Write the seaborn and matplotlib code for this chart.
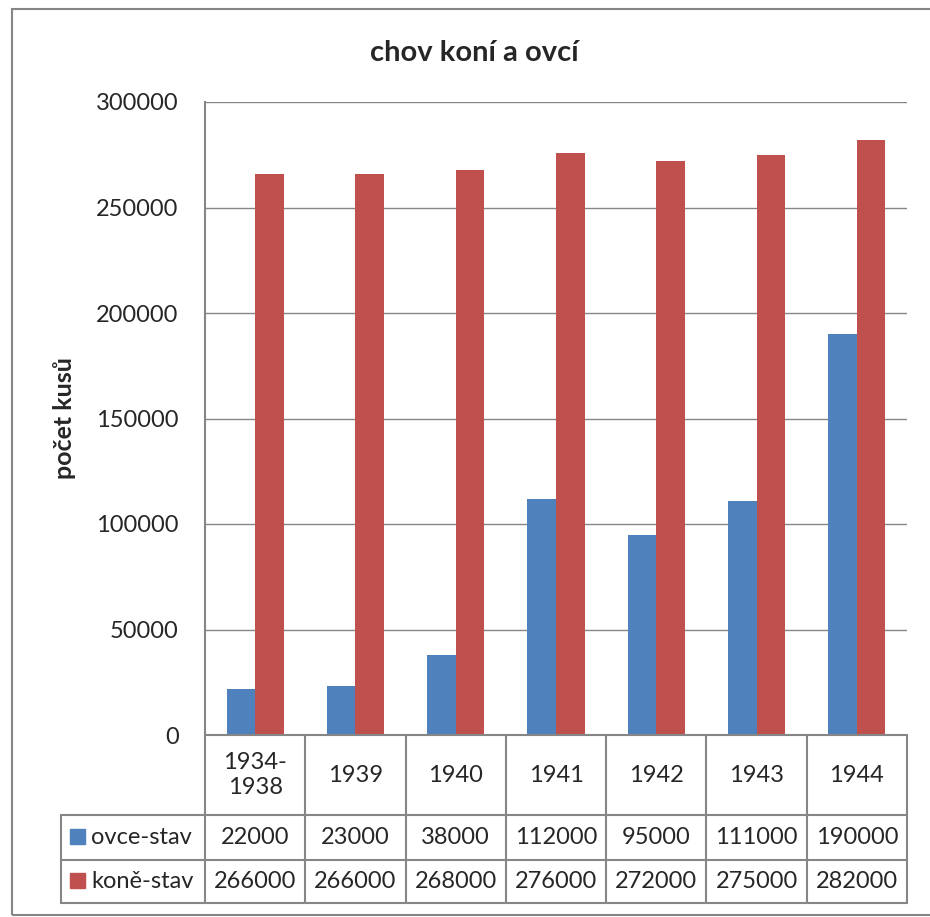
import pandas as pd
import matplotlib.pyplot as plt
import matplotlib.patches as mpatches
import matplotlib.transforms as mtransforms
import seaborn as sns

# data
years = ["1934-\n1938", "1939", "1940", "1941", "1942", "1943", "1944"]
ovce = [22000, 23000, 38000, 112000, 95000, 111000, 190000]
kone = [266000, 266000, 268000, 276000, 272000, 275000, 282000]
series = ["ovce-stav", "koně-stav"]
colors = ["#4F81BD", "#C0504D"]
title = "chov koní a ovcí"
ylabel = "počet kusů"
yticks = [0, 50000, 100000, 150000, 200000, 250000, 300000]

df = pd.DataFrame({
    "rok": years * 2,
    "stav": ovce + kone,
    "serie": [series[0]] * len(years) + [series[1]] * len(years),
})

sns.set_style("white")
plt.rcParams["font.family"] = ["Lato", "DejaVu Sans"]
GRID = "#868686"
FS = 17

W, H = 930, 917
fig = plt.figure(figsize=(W / 100, H / 100), dpi=100)

# plot area in pixels
L, R, T, B = 205, 907, 102, 735
ax = fig.add_axes([L / W, 1 - B / H, (R - L) / W, (B - T) / H])

sns.barplot(data=df, x="rok", y="stav", hue="serie", palette=colors,
            width=0.57, gap=0, saturation=1, linewidth=0, edgecolor="none",
            ax=ax, legend=False)

ax.set_ylim(0, 300000)
ax.set_xlim(-0.5, len(years) - 0.5)
ax.set_yticks(yticks)
ax.set_yticklabels([str(v) for v in yticks], fontsize=FS)
ax.tick_params(axis="y", length=0, pad=19)
ax.set_xticks([])
ax.set_xlabel("")
ax.set_ylabel("")
ax.yaxis.grid(True, color=GRID, lw=1)
ax.set_axisbelow(True)
for s in ["top", "right", "bottom"]:
    ax.spines[s].set_visible(False)
ax.spines["left"].set_color(GRID)
ax.spines["left"].set_linewidth(1.5)

# titles
fig.text(474 / W, 1 - 53 / H, title, ha="center", va="center",
         fontsize=21, fontweight="bold")
fig.text(65 / W, 1 - 418 / H, ylabel, ha="center", va="center",
         rotation=90, fontsize=18, fontweight="bold")

# data table under the plot (x in data units, y in axes units)
trans = mtransforms.blended_transform_factory(ax.transData, ax.transAxes)
ah = B - T
def ya(py):
    return (B - py) / ah

rows = [735, 815, 860, 903]
leg_left = ax.transData.inverted().transform(ax.transAxes.transform(((61 - L) / (R - L), 0)))[0]
n = len(years)
line_kw = dict(color=GRID, lw=1.5, clip_on=False, transform=trans)

# horizontal lines
ax.plot([-0.5, n - 0.5], [ya(rows[0])] * 2, **line_kw)
for py in rows[1:]:
    ax.plot([leg_left, n - 0.5], [ya(py)] * 2, **line_kw)
# vertical lines
for i in range(n + 1):
    ax.plot([i - 0.5] * 2, [ya(rows[0]), ya(rows[3])], **line_kw)
ax.plot([leg_left] * 2, [ya(rows[1]), ya(rows[3])], **line_kw)

for i, lab in enumerate(years):
    ax.text(i, ya((rows[0] + rows[1]) / 2), lab, transform=trans, ha="center",
            va="center", fontsize=FS, linespacing=1.2)
for r, vals in enumerate([ovce, kone]):
    mid = (rows[r + 1] + rows[r + 2]) / 2
    yc = ya(mid)
    for i, v in enumerate(vals):
        ax.text(i, yc, str(v), transform=trans, ha="center", va="center", fontsize=FS)
    # legend key + name
    fig.patches.append(mpatches.Rectangle((70 / W, 1 - (mid + 6) / H),
                                          15 / W, 15 / H, color=colors[r],
                                          transform=fig.transFigure))
    fig.text(91 / W, 1 - mid / H, series[r],
             ha="left", va="center", fontsize=FS)

# outer chart border
fig.patches.append(mpatches.Rectangle((12 / W, 1 - 915 / H), 1.0, (915 - 9) / H,
                                      fill=False, edgecolor=GRID, lw=1.5,
                                      transform=fig.transFigure))

fig.savefig("out.png", dpi=100)
